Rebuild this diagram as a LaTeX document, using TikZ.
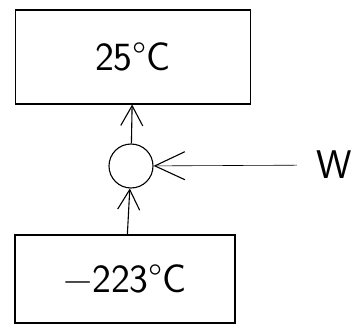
\documentclass[tikz,border=0pt]{standalone}
\usetikzlibrary{positioning,arrows.meta}

\begin{document}
\begin{tikzpicture}[
  x=1pt, y=-1pt,
  font=\sffamily\fontsize{40}{44}\selectfont,
  box/.style={draw=black, line width=1.1pt, align=center, inner sep=4pt},
  pump/.style={draw=black, circle, line width=1.1pt, minimum size=44pt, inner sep=0pt},
  arr/.style={-{Straight Barb[length=20pt, width=22pt, line width=1.1pt]}, black, line width=1.1pt},
  warr/.style={arr, -{Straight Barb[length=30pt, width=28pt, line width=1.1pt]}, line width=0.6pt},
]
\useasboundingbox (0,0) rectangle (364,332);
\node[box, minimum width=235pt, minimum height=94pt] (hot)  at (133,57)  {25°C};
\node[box, minimum width=220pt, minimum height=88pt] (cold) at (125,279) {−223°C};
\node[pump]                                           (hp)   at (131,166) {};
\node                                                 (work) at (334,165) {W};
\draw[arr] (cold) -- (hp);
\draw[arr] (hp) -- (hot);
\draw[warr, shorten <=16pt] (work) -- (hp);
\end{tikzpicture}
\end{document}
